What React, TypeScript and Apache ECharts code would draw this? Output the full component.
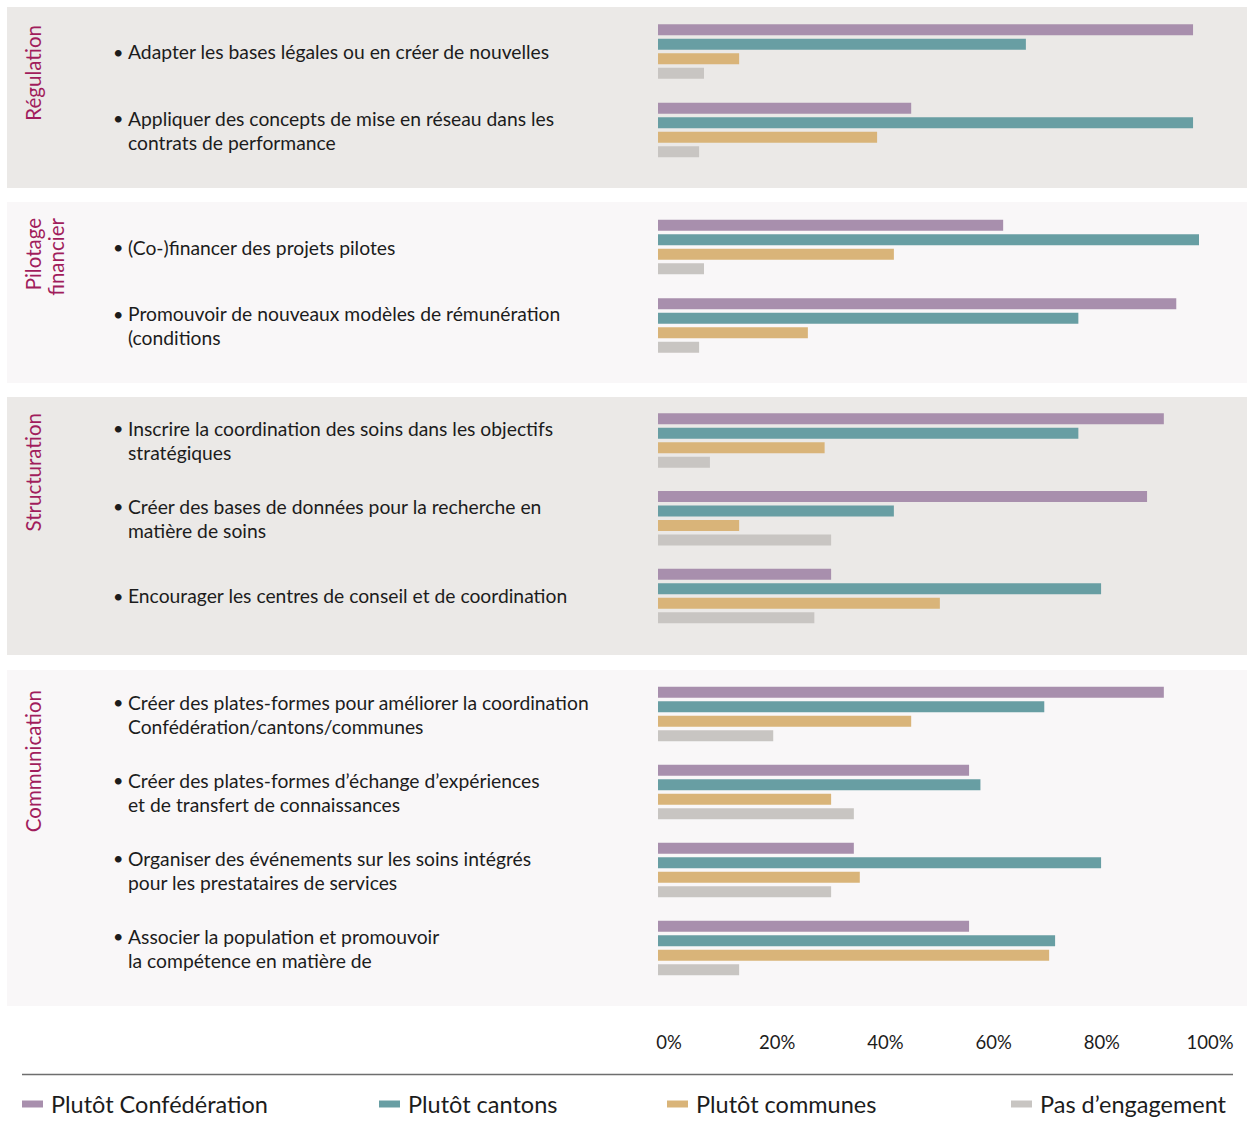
import React, { useEffect, useRef } from "react";
import * as echarts from "echarts";

const groupNames = ["Régulation", "Pilotage\nfinancier", "Structuration", "Communication"];
const groupSizes = [2, 2, 3, 4];

const items = [
  "Adapter les bases légales ou en créer de nouvelles",
  "Appliquer des concepts de mise en réseau dans les\ncontrats de performance",
  "(Co-)financer des projets pilotes",
  "Promouvoir de nouveaux modèles de rémunération\n(conditions",
  "Inscrire la coordination des soins dans les objectifs\nstratégiques",
  "Créer des bases de données pour la recherche en\nmatière de soins",
  "Encourager les centres de conseil et de coordination",
  "Créer des plates-formes pour améliorer la coordination\nConfédération/cantons/communes",
  "Créer des plates-formes d’échange d’expériences\net de transfert de connaissances",
  "Organiser des événements sur les soins intégrés\npour les prestataires de services",
  "Associer la population et promouvoir\nla compétence en matière de",
];

const seriesNames = ["Plutôt Confédération", "Plutôt cantons", "Plutôt communes", "Pas d’engagement"];
const confederation = [98.9, 46.8, 63.8, 95.8, 93.5, 90.4, 32.0, 93.5, 57.5, 36.2, 57.5];
const cantons = [68.0, 98.9, 100, 77.7, 77.7, 43.6, 81.9, 71.4, 59.6, 81.9, 73.4];
const communes = [15.0, 40.5, 43.6, 27.7, 30.8, 15.0, 52.1, 46.8, 32.0, 37.3, 72.3];
const aucun = [8.5, 7.6, 8.5, 7.6, 9.6, 32.0, 28.9, 21.3, 36.2, 32.0, 15.0];
const seriesValues = [confederation, cantons, communes, aucun];
const seriesColors = ["#a88fad", "#689ea3", "#d9b479", "#c8c5c2"];

const xTicks = [0, 20, 40, 60, 80, 100];

// layout (not data)
const panels = [
  { y: 7, h: 181, fill: "#ebe9e7", gridTop: 12.25, gridH: 157, labelTop: 25 },
  { y: 202, h: 181, fill: "#f9f7f8", gridTop: 207.75, gridH: 157, labelTop: 218 },
  { y: 397, h: 258, fill: "#ebe9e7", gridTop: 401.6, gridH: 233.25, labelTop: 413 },
  { y: 670, h: 336, fill: "#f9f7f8", gridTop: 675, gridH: 312, labelTop: 690 },
];

const FONT = "Lato, 'Noto Sans', sans-serif";
const TEXT = "#1c1c1c";
const ITEM_FS = 19.3;

export default function App() {
  const ref = useRef<HTMLDivElement>(null);
  useEffect(() => {
    document.body.style.margin = "0";
    if (!ref.current) return;
    const chart = echarts.init(ref.current, null, { renderer: "svg" });

    const grids: any[] = [];
    const xAxes: any[] = [];
    const yAxes: any[] = [];
    const series: any[] = [];
    let offset = 0;
    panels.forEach((p, gi) => {
      const n = groupSizes[gi];
      const cats = items.slice(offset, offset + n);
      grids.push({ left: 658, right: 48, top: p.gridTop, height: p.gridH, containLabel: false });
      const isLast = gi === panels.length - 1;
      xAxes.push({
        type: "value",
        gridIndex: gi,
        min: 0,
        max: 100,
        interval: 20,
        show: isLast,
        axisLine: { show: false },
        axisTick: { show: false },
        splitLine: { show: false },
        axisLabel: {
          show: isLast,
          margin: 45,
          fontSize: 18.5,
          fontFamily: FONT,
          color: TEXT,
          padding: [0, 0, 0, 22],
          formatter: (v: number) => (xTicks.indexOf(v) >= 0 ? v + "%" : ""),
        },
      });
      yAxes.push({
        type: "category",
        gridIndex: gi,
        data: cats,
        inverse: true,
        axisLine: { show: false },
        axisTick: { show: false },
        splitLine: { show: false },
        axisLabel: {
          align: "left",
          margin: 545,
          formatter: (v: string) =>
            v
              .split("\n")
              .map((line, i) => (i === 0 ? "{b|•}" : "{b|}") + "{t|" + line + "}")
              .join("\n"),
          rich: {
            b: { width: 15, fontSize: 18, lineHeight: 24, color: TEXT, fontFamily: FONT },
            t: { fontSize: ITEM_FS, lineHeight: 24, color: TEXT, fontFamily: FONT },
          },
        },
      });
      seriesNames.forEach((name, si) => {
        series.push({
          type: "bar",
          name,
          xAxisIndex: gi,
          yAxisIndex: gi,
          data: seriesValues[si].slice(offset, offset + n),
          barWidth: 11,
          barGap: "32%",
          itemStyle: { color: seriesColors[si] },
          silent: true,
        });
      });
      offset += n;
    });

    const legendLefts = [22, 379, 667, 1011];
    const legends = seriesNames.map((name, i) => ({
      data: [name],
      left: legendLefts[i],
      top: 1092,
      padding: 0,
      icon: "rect",
      itemWidth: 21,
      itemHeight: 7,
      selectedMode: false,
      textStyle: { fontSize: 23.5, color: TEXT, fontFamily: FONT, padding: [0, 0, 0, 3] },
    }));

    const graphic: any[] = [];
    panels.forEach((p, gi) => {
      graphic.push({
        type: "rect",
        z: -10,
        silent: true,
        shape: { x: 7, y: p.y, width: 1240, height: p.h },
        style: { fill: p.fill },
      });
      const lines = groupNames[gi].split("\n").length;
      graphic.push({
        type: "text",
        z: 10,
        x: lines > 1 ? 44.5 : 33,
        y: p.labelTop,
        rotation: Math.PI / 2,
        style: {
          text: groupNames[gi],
          fill: "#a11d5c",
          font: `20.5px ${FONT}`,
          lineHeight: 23,
          align: "right",
          verticalAlign: "middle",
        },
      });
    });
    graphic.push({
      type: "line",
      z: 10,
      shape: { x1: 22, y1: 1074.5, x2: 1233, y2: 1074.5 },
      style: { stroke: "#6e6e6e", lineWidth: 1.5 },
    });

    chart.setOption({
      animation: false,
      backgroundColor: "#ffffff",
      textStyle: { fontFamily: FONT },
      grid: grids,
      xAxis: xAxes,
      yAxis: yAxes,
      legend: legends,
      series,
      graphic,
    });
    return () => chart.dispose();
  }, []);
  return <div ref={ref} style={{ width: 1247, height: 1133 }} />;
}
